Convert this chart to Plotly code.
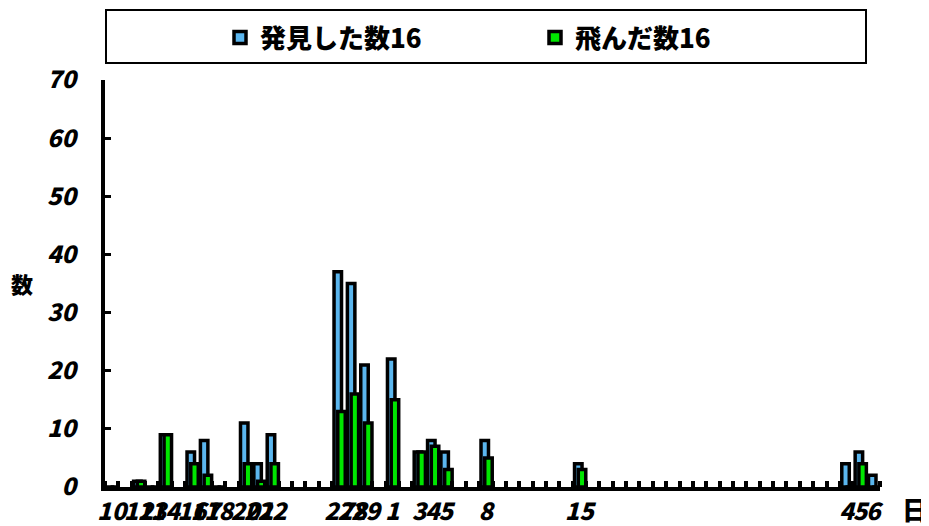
import plotly.graph_objects as go

# Data (dates of observation, day labels, counts)
dates = ["2016-09-10", "2016-09-12", "2016-09-13", "2016-09-14", "2016-09-16",
         "2016-09-17", "2016-09-18", "2016-09-20", "2016-09-21", "2016-09-22",
         "2016-09-27", "2016-09-28", "2016-09-29", "2016-10-01", "2016-10-03",
         "2016-10-04", "2016-10-05", "2016-10-08", "2016-10-15", "2016-11-04",
         "2016-11-05", "2016-11-06"]
day_labels = ["10", "12", "13", "14", "16", "17", "18", "20", "21", "22",
              "27", "28", "29", "1", "3", "4", "5", "8", "15", "4", "5", "6"]
found = [0, 1, 0, 9, 6, 8, 0, 11, 4, 9, 37, 35, 21, 22, 6, 8, 6, 8, 4, 4, 6, 2]
flew = [0, 1, 0, 9, 4, 2, 0, 4, 1, 4, 13, 16, 11, 15, 6, 7, 3, 5, 3, 0, 4, 0]

series_names = ["発見した数16", "飛んだ数16"]
colors = ["#5BB6EE", "#00E600"]

DAY = 86400000
FONT = "Noto Sans CJK JP"

# page body has an 8px margin, so the figure is 8px smaller and positions shifted
W, H = 921, 518
L, T, R, B = 97, 72, 49, 39
PW, PH = W - L - R, H - T - B


def px(x):
    return (x - L) / PW


def py(y):
    return (H - B - y) / PH


fig = go.Figure()
fig.add_trace(go.Bar(
    x=dates, y=found, name=series_names[0],
    marker=dict(color=colors[0], line=dict(color="black", width=3.5)),
    width=0.56 * DAY, offset=-0.36 * DAY,
))
fig.add_trace(go.Bar(
    x=dates, y=flew, name=series_names[1],
    marker=dict(color=colors[1], line=dict(color="black", width=3.5)),
    width=0.56 * DAY, offset=-0.08 * DAY,
))

tickfont = dict(family=FONT, size=24, color="black", weight=900, style="italic")

fig.update_layout(
    width=W, height=H,
    margin=dict(l=L, r=R, t=T, b=B, autoexpand=False),
    paper_bgcolor="white", plot_bgcolor="white",
    barmode="overlay",
    showlegend=True,
    legend=dict(
        orientation="h", xref="container", yref="container",
        x=212 / W, y=1 - 6 / H, xanchor="left", yanchor="top",
        entrywidth=270, entrywidthmode="pixels",
        font=dict(family=FONT, size=26, color="black", weight=900),
        bgcolor="rgba(0,0,0,0)", borderwidth=0,
    ),
    xaxis=dict(
        type="date",
        range=["2016-09-09 12:00", "2016-11-06 12:00"],
        tickmode="array", tickvals=dates, ticktext=day_labels,
        tickangle=0, ticks="", showgrid=False,
        showline=True, linecolor="black", linewidth=4,
        tickfont=tickfont,
        minor=dict(ticks="inside", ticklen=6, tickwidth=4, tickcolor="black",
                   dtick=DAY, tick0="2016-09-09 12:00", showgrid=False),
    ),
    yaxis=dict(
        range=[0, 70], dtick=10, tick0=0,
        ticks="inside", ticklen=6, tickwidth=3, tickcolor="black",
        showgrid=False, zeroline=False,
        showline=True, linecolor="black", linewidth=4,
        tickfont=tickfont, ticklabelstandoff=20,
    ),
    shapes=[dict(type="rect", xref="paper", yref="paper",
                 x0=px(98), x1=px(858), y0=py(55), y1=py(2),
                 line=dict(color="black", width=2), fillcolor="rgba(0,0,0,0)",
                 layer="below")],
    annotations=[
        dict(text="数", xref="paper", yref="paper", x=px(14), y=py(275),
             xanchor="center", yanchor="middle", showarrow=False,
             font=dict(family=FONT, size=22, color="black", weight=900)),
        dict(text="日", xref="paper", yref="paper", x=px(907), y=py(501),
             xanchor="center", yanchor="middle", showarrow=False,
             font=dict(family=FONT, size=26, color="black", weight=900)),
        dict(text="数", xref="paper", yref="paper", x=px(926), y=py(275),
             xanchor="center", yanchor="middle", showarrow=False,
             font=dict(family=FONT, size=22, color="black", weight=900)),
    ],
)

fig.write_html("out.html")
